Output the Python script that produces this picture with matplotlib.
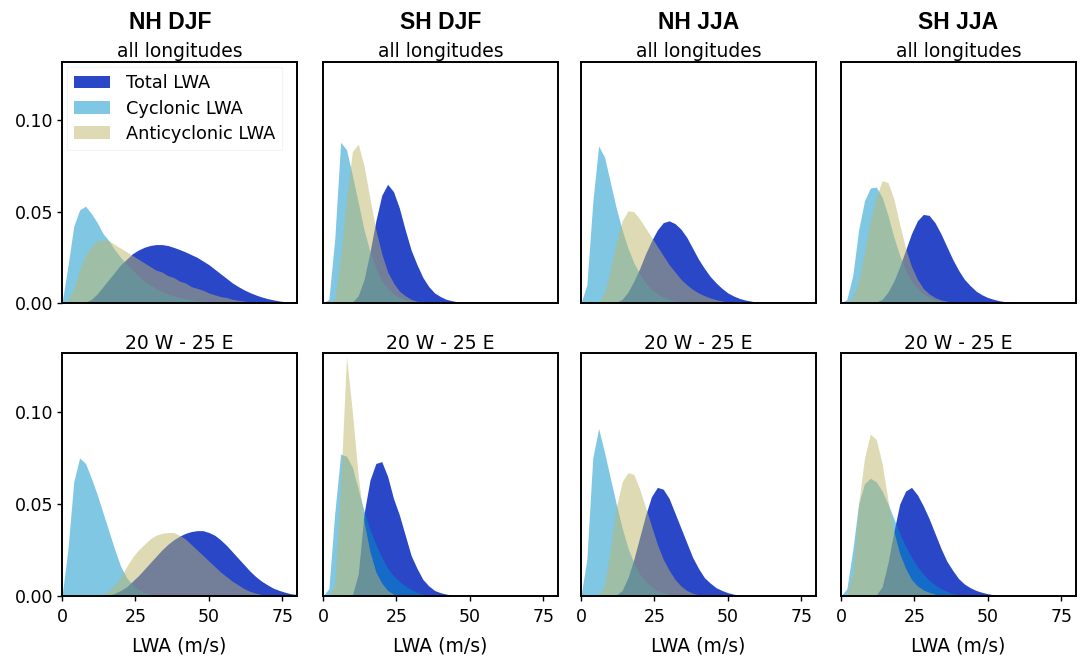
import matplotlib.pyplot as plt
import numpy as np

plt.rcParams['font.family'] = ['DejaVu Sans']

# LWA bins (m/s) and normalised counts per bin
lwa = np.arange(0, 82, 2)

def pad(v):
    return np.array(v + [0.0] * (len(lwa) - len(v)))

seasons = ['NH DJF', 'SH DJF', 'NH JJA', 'SH JJA']
regions = ['all longitudes', '20 W - 25 E']

# all longitudes
tot_nh_djf = pad([0, 0, 0, 0, 0.0005, 0.002, 0.005, 0.009, 0.013, 0.017, 0.021, 0.024, 0.027, 0.029,
                  0.0305, 0.0315, 0.032, 0.032, 0.0315, 0.0305, 0.0293, 0.028, 0.0265, 0.025, 0.023,
                  0.021, 0.0185, 0.016, 0.0135, 0.011, 0.009, 0.0072, 0.0057, 0.0044, 0.0033, 0.0024,
                  0.0017, 0.0011, 0.0007, 0.0004, 0.0002])
cyc_nh_djf = pad([0, 0.02, 0.042, 0.051, 0.053, 0.049, 0.044, 0.038, 0.034, 0.029, 0.025, 0.021, 0.018,
                  0.015, 0.012, 0.010, 0.008, 0.0065, 0.005, 0.004, 0.003, 0.0024, 0.0018, 0.0013,
                  0.001, 0.0007, 0.0005, 0.0003, 0.0002, 0.0001])
anti_nh_djf = pad([0, 0.001, 0.008, 0.018, 0.026, 0.031, 0.034, 0.0345, 0.034, 0.032, 0.030, 0.028,
                   0.026, 0.024, 0.022, 0.020, 0.018, 0.017, 0.015, 0.014, 0.012, 0.011, 0.009, 0.008,
                   0.007, 0.0055, 0.0045, 0.0035, 0.003, 0.002, 0.0015, 0.001, 0.0007, 0.0004, 0.0002])

tot_sh_djf = pad([0, 0, 0, 0, 0, 0.0005, 0.004, 0.013, 0.028, 0.045, 0.059, 0.065, 0.061, 0.052, 0.040,
                  0.029, 0.021, 0.014, 0.009, 0.0055, 0.0035, 0.002, 0.0012, 0.0006, 0.0003, 0.0001])
cyc_sh_djf = pad([0, 0.002, 0.035, 0.088, 0.084, 0.07, 0.055, 0.04, 0.028, 0.019, 0.012, 0.008, 0.005,
                  0.003, 0.0018, 0.001, 0.0005])
anti_sh_djf = pad([0, 0, 0.002, 0.025, 0.057, 0.083, 0.087, 0.075, 0.057, 0.04, 0.027, 0.017, 0.011,
                   0.0065, 0.004, 0.002, 0.001, 0.0005])

tot_nh_jja = pad([0, 0, 0, 0, 0, 0, 0.0005, 0.002, 0.006, 0.012, 0.019, 0.027, 0.034, 0.040, 0.044,
                  0.045, 0.0435, 0.0405, 0.036, 0.030, 0.024, 0.019, 0.0145, 0.011, 0.008, 0.0055,
                  0.0038, 0.0025, 0.0016, 0.001, 0.0005, 0.0002])
cyc_nh_jja = pad([0, 0.01, 0.055, 0.086, 0.08, 0.066, 0.052, 0.04, 0.03, 0.022, 0.016, 0.011, 0.0075,
                  0.005, 0.0033, 0.002, 0.0012, 0.0007, 0.0004, 0.0002])
anti_nh_jja = pad([0, 0, 0, 0, 0.006, 0.018, 0.033, 0.045, 0.0505, 0.05, 0.046, 0.041, 0.036, 0.031,
                   0.026, 0.021, 0.017, 0.013, 0.01, 0.0075, 0.0055, 0.004, 0.0028, 0.0018, 0.0011,
                   0.0006, 0.0003])

tot_sh_jja = pad([0, 0, 0, 0, 0, 0, 0.0005, 0.002, 0.006, 0.012, 0.02, 0.029, 0.038, 0.045, 0.0485,
                  0.048, 0.044, 0.038, 0.031, 0.024, 0.018, 0.013, 0.0095, 0.0065, 0.0045, 0.003,
                  0.002, 0.0012, 0.0007, 0.0003])
cyc_sh_jja = pad([0, 0.002, 0.015, 0.04, 0.056, 0.063, 0.0635, 0.058, 0.048, 0.036, 0.026, 0.018,
                  0.012, 0.008, 0.005, 0.003, 0.0018, 0.001, 0.0005])
anti_sh_jja = pad([0, 0, 0.003, 0.012, 0.028, 0.045, 0.058, 0.067, 0.066, 0.057, 0.043, 0.03, 0.02,
                   0.013, 0.008, 0.005, 0.003, 0.0017, 0.001, 0.0005])

# 20W - 25E
tot_nh_djf_eu = pad([0, 0, 0, 0, 0, 0, 0, 0, 0.0005, 0.0015, 0.003, 0.005, 0.008, 0.011, 0.0145, 0.018,
                     0.0215, 0.025, 0.028, 0.0305, 0.0325, 0.034, 0.035, 0.0355, 0.0355, 0.0345,
                     0.033, 0.0305, 0.0275, 0.024, 0.0205, 0.017, 0.0135, 0.0105, 0.008, 0.006,
                     0.0042, 0.003, 0.002, 0.0012, 0.0008])
cyc_nh_djf_eu = pad([0, 0.025, 0.062, 0.075, 0.072, 0.064, 0.055, 0.045, 0.035, 0.025, 0.016, 0.01,
                     0.006, 0.0035, 0.002, 0.001, 0.0005])
anti_nh_djf_eu = pad([0, 0, 0, 0, 0, 0, 0, 0.001, 0.003, 0.006, 0.01, 0.016, 0.021, 0.025, 0.028, 0.031,
                      0.033, 0.034, 0.0345, 0.0345, 0.033, 0.031, 0.028, 0.025, 0.022, 0.019, 0.016,
                      0.013, 0.0105, 0.008, 0.006, 0.004, 0.0025, 0.0015, 0.0008, 0.0004])

tot_sh_djf_eu = pad([0, 0, 0, 0, 0, 0.0005, 0.012, 0.045, 0.063, 0.072, 0.073, 0.065, 0.053, 0.044,
                     0.033, 0.022, 0.015, 0.009, 0.0055, 0.003, 0.0018, 0.001, 0.0005])
cyc_sh_djf_eu = pad([0, 0.004, 0.045, 0.077, 0.076, 0.07, 0.058, 0.046, 0.036, 0.028, 0.021, 0.015,
                     0.011, 0.008, 0.0055, 0.0035, 0.002, 0.0012, 0.0006, 0.0003])
anti_sh_djf_eu = pad([0, 0, 0.006, 0.06, 0.13, 0.1, 0.065, 0.04, 0.024, 0.013, 0.007, 0.003, 0.001])

tot_nh_jja_eu = pad([0, 0, 0, 0, 0, 0, 0.0005, 0.003, 0.01, 0.02, 0.032, 0.044, 0.054, 0.059, 0.058,
                     0.053, 0.045, 0.037, 0.029, 0.021, 0.015, 0.01, 0.007, 0.0045, 0.003, 0.0018,
                     0.001, 0.0005])
cyc_nh_jja_eu = pad([0, 0.02, 0.075, 0.091, 0.078, 0.064, 0.05, 0.037, 0.026, 0.018, 0.012, 0.008,
                     0.005, 0.003, 0.0018, 0.001, 0.0005])
anti_nh_jja_eu = pad([0, 0, 0, 0, 0.006, 0.025, 0.048, 0.062, 0.067, 0.066, 0.058, 0.048, 0.038, 0.028,
                      0.02, 0.014, 0.009, 0.0055, 0.003, 0.0015, 0.0007, 0.0003])

tot_sh_jja_eu = pad([0, 0, 0, 0, 0, 0, 0.0005, 0.005, 0.018, 0.035, 0.05, 0.057, 0.059, 0.055, 0.049,
                     0.042, 0.034, 0.026, 0.019, 0.014, 0.0095, 0.0065, 0.0045, 0.003, 0.002, 0.0012,
                     0.0007, 0.0003])
cyc_sh_jja_eu = pad([0, 0.004, 0.025, 0.05, 0.061, 0.064, 0.062, 0.057, 0.05, 0.042, 0.034, 0.027,
                     0.021, 0.016, 0.012, 0.0085, 0.006, 0.004, 0.0025, 0.0015, 0.0008, 0.0004])
anti_sh_jja_eu = pad([0, 0.001, 0.012, 0.05, 0.075, 0.088, 0.085, 0.072, 0.052, 0.035, 0.023, 0.015,
                      0.009, 0.0055, 0.0033, 0.002, 0.001, 0.0005])

total = [[tot_nh_djf, tot_sh_djf, tot_nh_jja, tot_sh_jja],
         [tot_nh_djf_eu, tot_sh_djf_eu, tot_nh_jja_eu, tot_sh_jja_eu]]
cyclonic = [[cyc_nh_djf, cyc_sh_djf, cyc_nh_jja, cyc_sh_jja],
            [cyc_nh_djf_eu, cyc_sh_djf_eu, cyc_nh_jja_eu, cyc_sh_jja_eu]]
anticyclonic = [[anti_nh_djf, anti_sh_djf, anti_nh_jja, anti_sh_jja],
                [anti_nh_djf_eu, anti_sh_djf_eu, anti_nh_jja_eu, anti_sh_jja_eu]]

W, H = 1081, 658
fig = plt.figure(figsize=(W / 100, H / 100), dpi=100)

col_left = [62, 323, 581, 841]
row_box = [(62, 303), (353, 596)]   # top, bottom in pixels
title_x = [0.46, 0.5, 0.5, 0.5]

for r in range(2):
    for c in range(4):
        top, bot = row_box[r]
        ax = fig.add_axes([col_left[c] / W, 1 - bot / H, 235 / W, (bot - top) / H])
        ax.fill_between(lwa, total[r][c], color='#2a47c7', lw=0, label='Total LWA')
        ax.fill_between(lwa, cyclonic[r][c], color='#0091c9', alpha=0.5, lw=0, label='Cyclonic LWA')
        ax.fill_between(lwa, anticyclonic[r][c], color='darkkhaki', alpha=0.5, lw=0,
                        label='Anticyclonic LWA')
        ax.set_xlim(0, 80)
        ax.set_ylim(0, 0.132)
        ax.set_xticks([0, 25, 50, 75])
        ax.set_yticks([0, 0.05, 0.1])
        ax.yaxis.set_major_formatter(plt.FormatStrFormatter('%.2f'))
        ax.tick_params(direction='out', length=3.5, width=1, labelsize=12.5)
        ax.tick_params(axis='y', pad=3)
        ax.tick_params(axis='x', pad=5.5)
        for s in ax.spines.values():
            s.set_linewidth(1.4)
        if r == 0:
            ax.tick_params(bottom=False, labelbottom=False)
            ax.set_title(regions[r], fontsize=13.5, pad=3.5)
            ax.text(title_x[c], 1.164, seasons[c], transform=ax.transAxes, ha='center', va='center',
                    fontsize=16.5, fontweight='bold', family='Liberation Sans')
        else:
            ax.set_title(regions[r], fontsize=13.5, pad=2)
            ax.set_xlabel('LWA (m/s)', fontsize=13.5, labelpad=7)
        if c > 0:
            ax.tick_params(left=False, labelleft=False)
        if r == 0 and c == 0:
            leg = ax.legend(loc='upper left', fontsize=12.8, frameon=True, fancybox=False,
                            edgecolor='#f4f4f4', framealpha=1, borderaxespad=0.3,
                            labelspacing=0.4, handletextpad=0.9)
            leg.get_frame().set_linewidth(0.8)

plt.savefig('out.png', dpi=100)
